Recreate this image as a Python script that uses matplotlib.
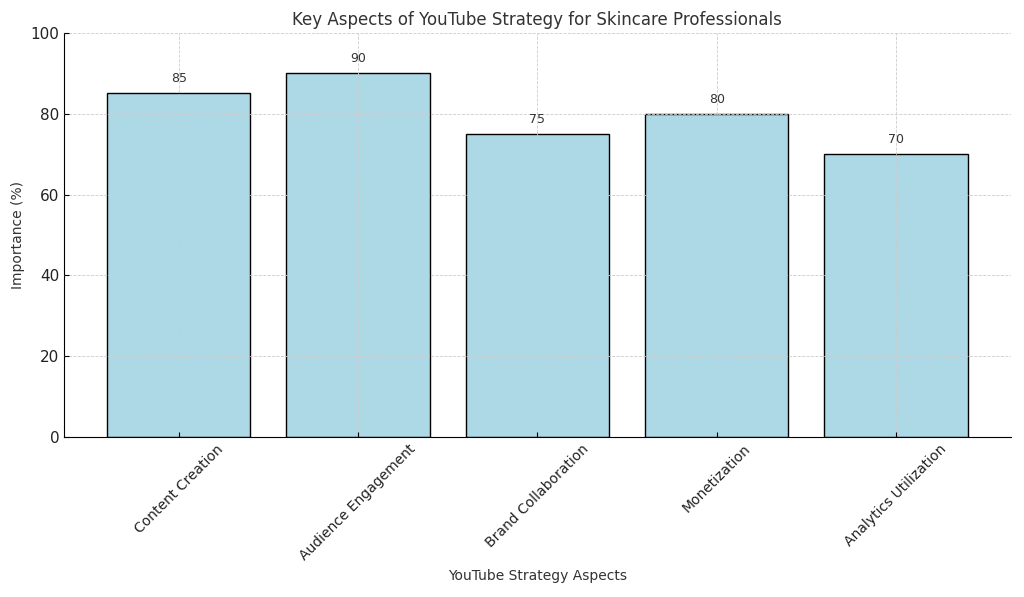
import matplotlib
matplotlib.use("Agg")
import matplotlib.pyplot as plt

aspects = ["Content Creation", "Audience Engagement", "Brand Collaboration",
           "Monetization", "Analytics Utilization"]
importance = [85, 90, 75, 80, 70]

TXT = "#333333"

fig, ax = plt.subplots(figsize=(10.24, 5.97), dpi=100)
bars = ax.bar(aspects, importance, color="lightblue", edgecolor="black", width=0.8)

for b, v in zip(bars, importance):
    ax.text(b.get_x() + b.get_width() / 2, v + 2, str(v),
            ha="center", va="bottom", fontsize=9, color=TXT)

ax.set_ylim(0, 100)
ax.set_title("Key Aspects of YouTube Strategy for Skincare Professionals",
             fontsize=12, color=TXT)
ax.set_xlabel("YouTube Strategy Aspects", fontsize=10, color=TXT)
ax.set_ylabel("Importance (%)", fontsize=10, color=TXT)
ax.tick_params(axis="x", labelrotation=45, labelsize=10, direction="in")
ax.tick_params(axis="y", labelsize=11, direction="in")
for lbl in ax.get_xticklabels() + ax.get_yticklabels():
    lbl.set_color("#222222")

ax.grid(True, linestyle="--", color="#cccccc", linewidth=0.6)
ax.set_axisbelow(False)
ax.spines["top"].set_visible(False)
ax.spines["right"].set_visible(False)

fig.subplots_adjust(left=0.0625, right=0.987, top=0.945, bottom=0.268)
fig.savefig("out.png", dpi=100)
